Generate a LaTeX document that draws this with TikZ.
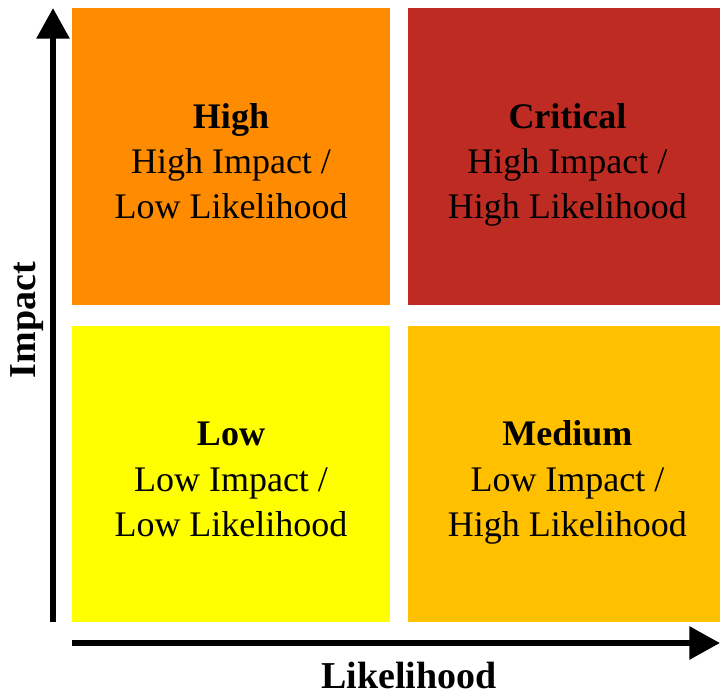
\documentclass[tikz,border=0pt]{standalone}
\usepackage{fontspec}
\setmainfont{Liberation Serif}
\usetikzlibrary{arrows.meta}
\definecolor{highorange}{RGB}{255,140,0}
\definecolor{criticalred}{RGB}{190,43,35}
\definecolor{lowyellow}{RGB}{255,255,0}
\definecolor{mediumgold}{RGB}{255,192,0}

\begin{document}
\begin{tikzpicture}[x=0.75pt,y=0.75pt,yscale=-1,xscale=1,
  cell/.style={inner sep=0pt, minimum height=222.5pt},
  celltext/.style={inner sep=0pt, align=center, text=black,
    font=\fontsize{27}{34}\selectfont},
  axis/.style={line width=4.5pt, -{Triangle[length=23pt,width=24pt]}},
  axislabel/.style={anchor=base, inner sep=0pt, font=\bfseries\fontsize{28.5}{33}\selectfont}]
\useasboundingbox (0,0) rectangle (720,695);

% risk cells
\node [cell, fill=highorange, minimum width=238.5pt] (high) at (231,156.5) {};
\node [cell, fill=criticalred, minimum width=234pt] (critical) at (564,156.5) {};
\node [cell, fill=lowyellow, minimum width=238.5pt] (low) at (231,474) {};
\node [cell, fill=mediumgold, minimum width=234pt] (medium) at (564,474) {};

% cell texts (yshift is flipped by yscale=-1)
\node [celltext] (hightext) at ([yshift=6pt]high.center)
  {\strut\textbf{High}\\High Impact /\\Low Likelihood\strut};
\node [celltext] (criticaltext) at ([xshift=2.6pt,yshift=6pt]critical.center)
  {\strut\textbf{Critical}\\High Impact /\\High Likelihood\strut};
\node [celltext] (lowtext) at ([yshift=6pt]low.center)
  {\strut\textbf{Low}\\Low Impact /\\Low Likelihood\strut};
\node [celltext] (mediumtext) at ([xshift=2.6pt,yshift=6pt]medium.center)
  {\strut\textbf{Medium}\\Low Impact /\\High Likelihood\strut};

% axes
\coordinate (ybottom) at (53,622);
\coordinate (ytop) at (53,8);
\coordinate (xleft) at (72,643);
\coordinate (xright) at (720,643);
\draw [axis] (ybottom) -- (ytop);
\draw [axis] (xleft) -- (xright);
\node [axislabel, rotate=90] (impact) at (35,320) {Impact};
\node [axislabel] (likelihood) at (409,688) {Likelihood};

\end{tikzpicture}
\end{document}
